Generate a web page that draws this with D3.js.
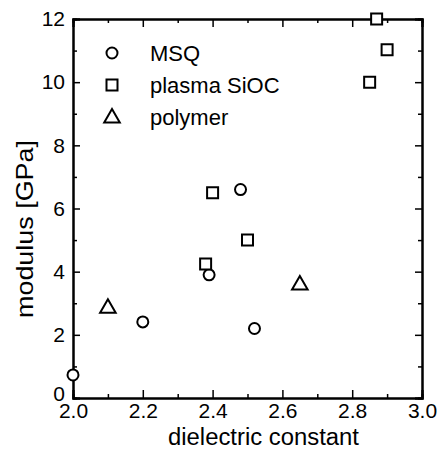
<!DOCTYPE html>
<html><head><meta charset="utf-8">
<script src="https://cdn.jsdelivr.net/npm/d3@7"></script>
<style>
body{margin:0;background:#fff;}
text{font-family:"Liberation Sans",Arial,sans-serif;fill:#000;}
</style></head>
<body><svg id="c" width="439" height="450"></svg>
<script>
const msqX = [2.0, 2.2, 2.39, 2.48, 2.52];
const msqY = [0.73, 2.41, 3.9, 6.6, 2.2];
const sicX = [2.38, 2.40, 2.50, 2.85, 2.87, 2.90];
const sicY = [4.24, 6.5, 5.0, 10.0, 12.0, 11.03];
const polX = [2.10, 2.65];
const polY = [2.84, 3.58];
const xMajor = [2.0, 2.2, 2.4, 2.6, 2.8, 3.0];
const xMinor = [2.1, 2.3, 2.5, 2.7, 2.9];
const yMajor = [0, 2, 4, 6, 8, 10, 12];
const yMinor = [1, 3, 5, 7, 9, 11];
const legendLabels = ["MSQ", "plasma SiOC", "polymer"];
const xTitle = "dielectric constant";
const yTitle = "modulus [GPa]";

const W = 439, H = 450;
const m = {l:73, r:17, t:19, b:52};
const svg = d3.select("#c");
const x = d3.scaleLinear().domain([2.0, 3.0]).range([m.l, W - m.r]);
const y = d3.scaleLinear().domain([0, 12]).range([H - m.b, m.t]);

function styleAxis(g){
  g.selectAll("path.domain").attr("stroke","#000").attr("stroke-width",2);
  g.selectAll(".tick line").attr("stroke","#000").attr("stroke-width",1.5);
  g.selectAll(".tick text").attr("font-size",21).attr("font-family","'Liberation Sans',Arial,sans-serif");
}
// bottom
svg.append("g").attr("transform",`translate(0,${H-m.b})`)
  .call(d3.axisBottom(x).tickValues(xMajor).tickSize(-8).tickPadding(5).tickFormat(d3.format(".1f")))
  .call(styleAxis);
svg.append("g").attr("transform",`translate(0,${H-m.b})`)
  .call(d3.axisBottom(x).tickValues(xMinor).tickSize(-4).tickFormat(""))
  .call(styleAxis);
// top
svg.append("g").attr("transform",`translate(0,${m.t})`)
  .call(d3.axisTop(x).tickValues(xMajor).tickSize(-8).tickFormat(""))
  .call(styleAxis);
svg.append("g").attr("transform",`translate(0,${m.t})`)
  .call(d3.axisTop(x).tickValues(xMinor).tickSize(-4).tickFormat(""))
  .call(styleAxis);
// left
const gl = svg.append("g").attr("transform",`translate(${m.l},0)`)
  .call(d3.axisLeft(y).tickValues(yMajor).tickSize(-7).tickPadding(8).tickFormat(d3.format("d")))
  .call(styleAxis);
gl.selectAll(".tick text").filter(d => d === 0).attr("dy","0.12em");
svg.append("g").attr("transform",`translate(${m.l},0)`)
  .call(d3.axisLeft(y).tickValues(yMinor).tickSize(-4).tickFormat(""))
  .call(styleAxis);
// right
svg.append("g").attr("transform",`translate(${W-m.r},0)`)
  .call(d3.axisRight(y).tickValues(yMajor).tickSize(-7).tickFormat(""))
  .call(styleAxis);
svg.append("g").attr("transform",`translate(${W-m.r},0)`)
  .call(d3.axisRight(y).tickValues(yMinor).tickSize(-4).tickFormat(""))
  .call(styleAxis);

// titles
svg.append("text").attr("x",263.5).attr("y",445)
  .attr("text-anchor","middle").attr("font-size",23)
  .attr("textLength",191).attr("lengthAdjust","spacingAndGlyphs").text(xTitle);
svg.append("text").attr("transform",`translate(33,229) rotate(-90)`)
  .attr("text-anchor","middle").attr("font-size",24)
  .attr("textLength",178).attr("lengthAdjust","spacingAndGlyphs").text(yTitle);

const mk = {
  circle: d3.symbol().type(d3.symbolCircle).size(Math.PI*5.5*5.5),
  square: d3.symbol().type(d3.symbolSquare).size(11*11),
  triangle: d3.symbol().type(d3.symbolTriangle).size(105)
};
function draw(xs, ys, gen){
  svg.append("g").selectAll("path").data(xs).join("path")
    .attr("d", gen)
    .attr("transform",(d,i)=>`translate(${x(d)},${y(ys[i])})`)
    .attr("fill","#fff").attr("stroke","#000").attr("stroke-width",2);
}
draw(msqX, msqY, mk.circle);
draw(polX, polY, mk.triangle);
draw(sicX, sicY, mk.square);

// legend
const gens = [mk.circle, mk.square, mk.triangle];
const lg = svg.append("g");
legendLabels.forEach((lab,i)=>{
  const cy = 53 + i*32;
  lg.append("path").attr("d", gens[i]).attr("transform",`translate(112,${cy + (i===2?1:0)})`)
    .attr("fill","#fff").attr("stroke","#000").attr("stroke-width",2);
  lg.append("text").attr("x",150).attr("y",cy+8).attr("font-size",22).text(lab);
});
</script></body></html>
